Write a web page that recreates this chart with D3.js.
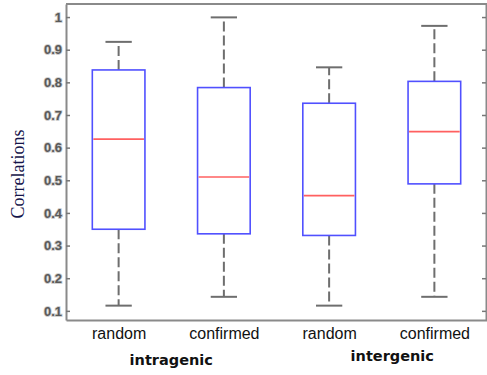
<!DOCTYPE html>
<html>
<head>
<meta charset="utf-8">
<script src="https://cdn.jsdelivr.net/npm/d3@7"></script>
<style>
  body { margin: 0; background: #fff; }
  svg { display: block; }
</style>
</head>
<body>
<div id="chart"></div>
<script>
// box plot values
const categories = ['random', 'confirmed', 'random', 'confirmed'];
const groups = ['intragenic', 'intergenic'];
const whiskerLow = [0.116, 0.143, 0.116, 0.143];
const q1 = [0.350, 0.336, 0.331, 0.489];
const median = [0.626, 0.510, 0.453, 0.649];
const q3 = [0.838, 0.784, 0.736, 0.803];
const whiskerHigh = [0.924, 0.999, 0.846, 0.973];
const yTicks = [0.1, 0.2, 0.3, 0.4, 0.5, 0.6, 0.7, 0.8, 0.9, 1];

const width = 487;
const height = 375;

const svg = d3.select('#chart').append('svg')
    .attr('width', width).attr('height', height);

const x = d3.scaleLinear().domain([0.5, 4.5]).range([66, 487]);
const y = d3.scaleLinear().domain([0.072, 1.04]).range([320, 4]);

const boxes = categories.map((c, i) => ({
    pos: i + 1, lo: whiskerLow[i], q1: q1[i], med: median[i], q3: q3[i], hi: whiskerHigh[i]
}));
const halfBox = (x(2) - x(1)) * 0.25;
const halfCap = halfBox * 0.5;

// frame
const frameColor = '#8a8a8a';
svg.append('line').attr('x1', x(0.5)).attr('x2', x(4.5)).attr('y1', y.range()[1]).attr('y2', y.range()[1])
    .attr('stroke', frameColor).attr('stroke-width', 2);

// left axis
const yAxis = svg.append('g').attr('transform', `translate(${x(0.5)},0)`)
    .call(d3.axisLeft(y).tickValues(yTicks).tickSizeInner(-4).tickSizeOuter(0).tickPadding(4)
        .tickFormat(d => d === 1 ? '1' : d3.format('.1f')(d)));
yAxis.select('.domain').attr('stroke', frameColor).attr('stroke-width', 2);
yAxis.selectAll('.tick line').attr('stroke', '#777').attr('stroke-width', 1.5);
yAxis.selectAll('.tick text')
    .attr('fill', '#5a5a5a')
    .attr('stroke', '#c8c8c8').attr('stroke-width', 1.6).attr('paint-order', 'stroke')
    .style('font-family', 'Liberation Sans, Arial, sans-serif')
    .style('font-size', '13px').style('font-weight', 'bold');

// right axis
const yAxisR = svg.append('g').attr('transform', `translate(${x(4.5) - 1},0)`)
    .call(d3.axisRight(y).tickValues(yTicks).tickSizeInner(-4).tickSizeOuter(0).tickFormat(''));
yAxisR.select('.domain').attr('stroke', frameColor).attr('stroke-width', 2);
yAxisR.selectAll('.tick line').attr('stroke', '#777').attr('stroke-width', 1.5);

// bottom axis
const xAxis = svg.append('g').attr('transform', `translate(0,${y.range()[0]})`)
    .call(d3.axisBottom(x).tickValues([1, 2, 3, 4]).tickSize(0).tickPadding(8)
        .tickFormat((d, i) => categories[i]));
xAxis.select('.domain').attr('stroke', frameColor).attr('stroke-width', 2);
xAxis.selectAll('.tick text')
    .attr('fill', '#111')
    .style('font-family', 'Liberation Sans, Arial, sans-serif')
    .style('font-size', '16px');

// group labels
const groupPos = [1.5, 3.6];
const groupBase = [365, 361];
svg.selectAll('.group').data(groups).enter().append('text')
    .attr('class', 'group')
    .attr('x', (d, i) => x(groupPos[i]))
    .attr('y', (d, i) => groupBase[i])
    .attr('text-anchor', 'middle')
    .style('font-family', 'DejaVu Sans, Verdana, sans-serif')
    .style('font-size', '14.5px').style('font-weight', 'bold')
    .attr('fill', '#111')
    .text(d => d);

// y label
svg.append('text')
    .attr('transform', 'translate(24,174) rotate(-90)')
    .attr('text-anchor', 'middle')
    .style('font-family', 'Liberation Serif, Times New Roman, serif')
    .style('font-size', '18px')
    .attr('fill', '#14144a')
    .text('Correlations');

// boxes
const g = svg.append('g');
const box = g.selectAll('.box').data(boxes).enter().append('g').attr('class', 'box');

const whiskerColor = '#6e6e6e';
box.append('line')
    .attr('x1', d => x(d.pos)).attr('x2', d => x(d.pos))
    .attr('y1', d => y(d.q3)).attr('y2', d => y(d.hi))
    .attr('stroke', whiskerColor).attr('stroke-width', 2).attr('stroke-dasharray', '10,4');
box.append('line')
    .attr('x1', d => x(d.pos)).attr('x2', d => x(d.pos))
    .attr('y1', d => y(d.q1)).attr('y2', d => y(d.lo))
    .attr('stroke', whiskerColor).attr('stroke-width', 2).attr('stroke-dasharray', '10,4');
box.append('line')
    .attr('x1', d => x(d.pos) - halfCap).attr('x2', d => x(d.pos) + halfCap)
    .attr('y1', d => y(d.hi)).attr('y2', d => y(d.hi))
    .attr('stroke', whiskerColor).attr('stroke-width', 2);
box.append('line')
    .attr('x1', d => x(d.pos) - halfCap).attr('x2', d => x(d.pos) + halfCap)
    .attr('y1', d => y(d.lo)).attr('y2', d => y(d.lo))
    .attr('stroke', whiskerColor).attr('stroke-width', 2);

box.append('rect')
    .attr('x', d => x(d.pos) - halfBox)
    .attr('width', halfBox * 2)
    .attr('y', d => y(d.q3))
    .attr('height', d => y(d.q1) - y(d.q3))
    .attr('fill', '#fff')
    .attr('stroke', '#5050ff').attr('stroke-width', 1.6);

box.append('line')
    .attr('x1', d => x(d.pos) - halfBox + 1).attr('x2', d => x(d.pos) + halfBox - 1)
    .attr('y1', d => y(d.med)).attr('y2', d => y(d.med))
    .attr('stroke', '#ff6060').attr('stroke-width', 1.6);
</script>
</body>
</html>
